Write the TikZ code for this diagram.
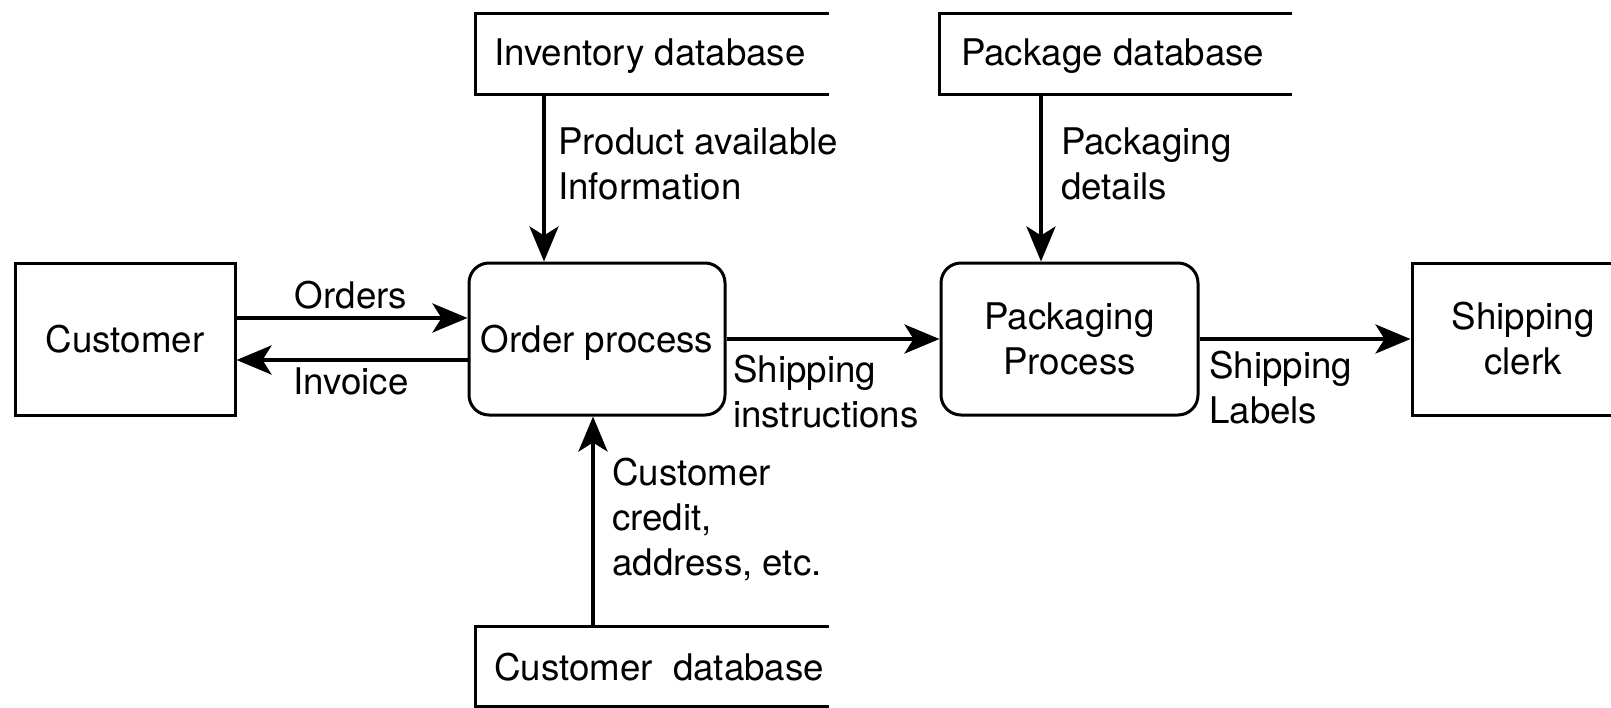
\documentclass[tikz,border=0pt]{standalone}
\usepackage{fontspec}
\setmainfont{TeX Gyre Heros}
\usetikzlibrary{arrows.meta}
\begin{document}
\begin{tikzpicture}[x=1pt,y=-1pt,
  font=\fontsize{36.7}{45}\selectfont,
  box/.style={draw, line width=3pt, inner sep=0pt, minimum height=152pt, align=center},
  proc/.style={box, rounded corners=20pt},
  storeline/.style={line width=3pt},
  arr/.style={line width=4pt, -{Stealth[length=35pt,width=29pt,inset=9pt]}},
  lbl/.style={inner sep=0pt, align=left, anchor=base west},
  clbl/.style={inner sep=0pt, anchor=base}
]
\useasboundingbox (0,0) rectangle (1611,707);

% processes and entities
\node[box, minimum width=220pt] (cust) at (125,339) {Customer};
\node[proc, minimum width=256pt, text depth=0pt] (order) at (597,339) {Order process};
\node[proc, minimum width=257pt] (pack) at (1069.5,339) {Packaging\\Process};
\node[box, minimum width=222pt] (clerk) at (1523,339) {Shipping\\clerk};

% data stores
\draw[storeline] (829,13) -| (475,94) -- (829,94);
\node[lbl] (inv) at (494,65) {Inventory database};
\draw[storeline] (1292,13) -| (939,94) -- (1292,94);
\node[lbl] (pkgdb) at (961,65) {Package database};
\draw[storeline] (829,626) -| (475,706) -- (829,706);
\node[lbl] (custdb) at (494,680) {Customer\ \ database};

% flows
\coordinate (invout) at (544,94);
\draw[arr] (invout) -- (invout |- order.north);
\coordinate (pkgout) at (1041,94);
\draw[arr] (pkgout) -- (pkgout |- pack.north);
\coordinate (cdbout) at (593,626);
\draw[arr] (cdbout) -- (cdbout |- order.south);
\draw[arr] ([yshift=21pt]cust.east) -- ([yshift=21pt]order.west);
\draw[arr] ([yshift=-21pt]order.west) -- ([yshift=-21pt]cust.east);
\draw[arr] (order.east) -- (pack.west);
\draw[arr] (pack.east) -- (clerk.west);

% flow labels
\node[clbl] (lorders) at (351,308) {Orders};
\node[clbl] (linvoice) at (351,394) {Invoice};
\node[lbl] (lprod) at (558,199) {Product available\\Information};
\node[lbl] (lpackd) at (1061,199) {Packaging\\details};
\node[lbl] (lship) at (733,427) {Shipping\\instructions};
\node[lbl] (llabels) at (1209,423) {Shipping\\Labels};
\node[lbl] (lcred) at (612,575) {Customer\\credit,\\address, etc.};
\end{tikzpicture}
\end{document}
